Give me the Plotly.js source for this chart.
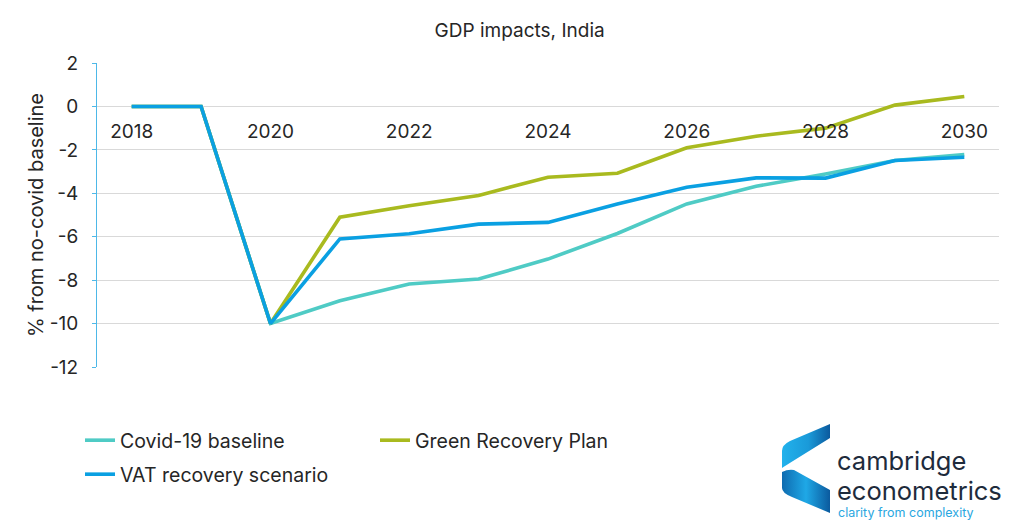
<!DOCTYPE html>
<html>
<head>
<meta charset="utf-8">
<script src="https://cdn.plot.ly/plotly-3.0.1.min.js"></script>
<style>html,body{margin:0;padding:0;background:#fff;}#chart{width:1029px;height:522px;}</style>
</head>
<body>
<div id="chart"></div>
<script>
// ---- data ----
var years = [2018, 2019, 2020, 2021, 2022, 2023, 2024, 2025, 2026, 2027, 2028, 2029, 2030];
var covidBaseline = [0, 0, -10, -8.95, -8.18, -7.95, -7.03, -5.85, -4.49, -3.68, -3.11, -2.49, -2.22];
var greenRecovery = [0, 0, -10, -5.1, -4.57, -4.1, -3.26, -3.08, -1.9, -1.37, -1.0, 0.06, 0.46];
var vatRecovery = [0, 0, -10, -6.1, -5.86, -5.42, -5.34, -4.49, -3.72, -3.29, -3.3, -2.49, -2.34];
var seriesNames = ["Covid-19 baseline", "Green Recovery Plan", "VAT recovery scenario"];
var xTickVals = [2018, 2020, 2022, 2024, 2026, 2028, 2030];
var xTickText = ["2018", "2020", "2022", "2024", "2026", "2028", "2030"];
var yTickVals = [2, 0, -2, -4, -6, -8, -10, -12];
var yTickText = ["2", "0", "-2", "-4", "-6", "-8", "-10", "-12"];

// ---- layout helpers ----
var W = 1029, H = 522;
var mL = 97, mR = 30, mT = 63, mB = 155;
var pw = W - mL - mR, ph = H - mT - mB;
function px2x(p) { return (p - mL) / pw; }
function px2y(p) { return (H - mB - p) / ph; }

var FONT = "Inter, 'Noto Sans', sans-serif";
var colors = ["#4FCBC5", "#A9BA1F", "#0AA0E2"];
var legendIds = ["legend", "legend", "legend2"];

var traces = [covidBaseline, greenRecovery, vatRecovery].map(function (vals, i) {
  return {
    type: "scatter", mode: "lines", x: years, y: vals, name: seriesNames[i],
    legend: legendIds[i],
    line: { color: colors[i], width: 3.6 }
  };
});

var logoSvg = '<svg xmlns="http://www.w3.org/2000/svg" viewBox="0 0 50 89" width="50" height="89">' +
  '<defs>' +
  '<linearGradient id="g1" x1="0" y1="0" x2="1" y2="0"><stop offset="0" stop-color="#22B2EC"/><stop offset="0.55" stop-color="#1A9AD9"/><stop offset="1" stop-color="#0B5A9E"/></linearGradient>' +
  '<linearGradient id="g2" x1="0" y1="0" x2="1" y2="0"><stop offset="0" stop-color="#0E6BB0"/><stop offset="0.5" stop-color="#1FA8E6"/><stop offset="1" stop-color="#0B5A9E"/></linearGradient>' +
  '</defs>' +
  '<path d="M50 0 L50 14 L13 37 Q5 42 2 44 L2 27 Q2 21 10 17 Z" fill="url(#g1)"/>' +
  '<path d="M2 48 Q8 45 14 46 L50 66 L50 89 L12 73 Q2 69 2 64 Z" fill="url(#g2)"/>' +
  '</svg>';

var legendFont = { family: FONT, size: 19.5, color: "#262626" };

var layout = {
  width: W, height: H,
  margin: { l: mL, r: mR, t: mT, b: mB, pad: 0 },
  paper_bgcolor: "#ffffff", plot_bgcolor: "#ffffff",
  font: { family: FONT, color: "#262626", size: 19 },
  title: { text: "GDP impacts, India", font: { family: FONT, size: 19, color: "#262626" }, x: 0.505, xanchor: "center", y: 1 - 30 / H, yanchor: "middle" },
  showlegend: true,
  legend: {
    orientation: "h", x: px2x(80), xanchor: "left", y: px2y(421), yanchor: "top",
    font: legendFont,
    entrywidth: 250, entrywidthmode: "pixels", traceorder: "normal",
    itemwidth: 30, bgcolor: "rgba(0,0,0,0)"
  },
  legend2: {
    orientation: "h", x: px2x(80), xanchor: "left", y: px2y(455), yanchor: "top",
    font: legendFont,
    itemwidth: 30, bgcolor: "rgba(0,0,0,0)"
  },
  xaxis: {
    type: "linear", range: [2017.5, 2030.5],
    tickmode: "array", tickvals: xTickVals, ticktext: xTickText,
    anchor: "free", position: 12 / 14,
    showgrid: false, zeroline: false, showline: false,
    ticks: "outside", ticklen: 8, tickcolor: "rgba(0,0,0,0)",
    tickfont: { family: FONT, size: 19, color: "#262626" }
  },
  yaxis: {
    range: [-12, 2], domain: [0, 1],
    tickmode: "array", tickvals: yTickVals, ticktext: yTickText,
    showgrid: true, gridcolor: "#D9D9D9", gridwidth: 1,
    zeroline: false, showline: true, linecolor: "#4DB8E8", linewidth: 1,
    ticks: "outside", ticklen: 4, tickcolor: "#4DB8E8",
    ticklabelstandoff: 10,
    tickfont: { family: FONT, size: 19, color: "#262626" },
    title: { text: "% from no-covid baseline", font: { family: FONT, size: 20, color: "#262626" }, standoff: 0 }
  },
  images: [{
    source: "data:image/svg+xml;charset=utf-8," + encodeURIComponent(logoSvg),
    xref: "paper", yref: "paper", x: px2x(780), y: px2y(424),
    sizex: 50 / pw, sizey: 89 / ph, sizing: "stretch", xanchor: "left", yanchor: "top", layer: "above"
  }],
  annotations: [
    { text: "cambridge", xref: "paper", yref: "paper", x: px2x(836), y: px2y(460), xanchor: "left", yanchor: "middle", showarrow: false, borderpad: 0, font: { family: FONT, size: 25.5, color: "#1E2B3C" } },
    { text: "econometrics", xref: "paper", yref: "paper", x: px2x(836), y: px2y(490), xanchor: "left", yanchor: "middle", showarrow: false, borderpad: 0, font: { family: FONT, size: 25.5, color: "#1E2B3C" } },
    { text: "clarity from complexity", xref: "paper", yref: "paper", x: px2x(837), y: px2y(512), xanchor: "left", yanchor: "middle", showarrow: false, borderpad: 0, font: { family: FONT, size: 12.5, color: "#2AA7DF" } }
  ]
};

Plotly.newPlot("chart", traces, layout, { displayModeBar: false, staticPlot: true });
</script>
</body>
</html>
